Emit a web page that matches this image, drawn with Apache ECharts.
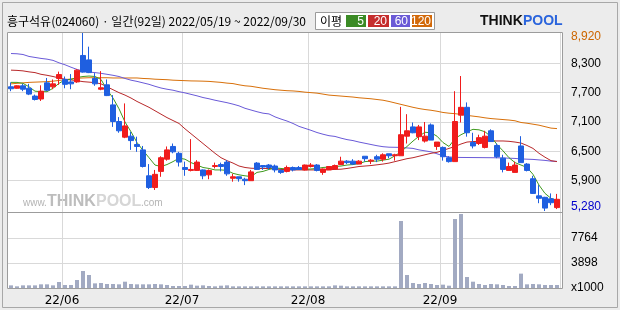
<!DOCTYPE html>
<html><head><meta charset="utf-8">
<script src="https://cdn.jsdelivr.net/npm/echarts@6/dist/echarts.min.js"></script>
<style>html,body{margin:0;padding:0;background:#ececec}#c{width:620px;height:310px}</style>
</head><body><div id="c"></div>
<script>
const dates = [
'2022/05/19','2022/05/20','2022/05/23','2022/05/24','2022/05/25','2022/05/26','2022/05/27','2022/05/30','2022/05/31',
'2022/06/02','2022/06/03','2022/06/07','2022/06/08','2022/06/09','2022/06/10','2022/06/13','2022/06/14','2022/06/15','2022/06/16','2022/06/17','2022/06/20','2022/06/21','2022/06/22','2022/06/23','2022/06/24','2022/06/27','2022/06/28','2022/06/29','2022/06/30',
'2022/07/01','2022/07/04','2022/07/05','2022/07/06','2022/07/07','2022/07/08','2022/07/11','2022/07/12','2022/07/13','2022/07/14','2022/07/15','2022/07/18','2022/07/19','2022/07/20','2022/07/21','2022/07/22','2022/07/25','2022/07/26','2022/07/27','2022/07/28','2022/07/29',
'2022/08/01','2022/08/02','2022/08/03','2022/08/04','2022/08/05','2022/08/08','2022/08/09','2022/08/10','2022/08/11','2022/08/12','2022/08/16','2022/08/17','2022/08/18','2022/08/19','2022/08/22','2022/08/23','2022/08/24','2022/08/25','2022/08/26','2022/08/29','2022/08/30','2022/08/31',
'2022/09/01','2022/09/02','2022/09/05','2022/09/06','2022/09/07','2022/09/08','2022/09/13','2022/09/14','2022/09/15','2022/09/16','2022/09/19','2022/09/20','2022/09/21','2022/09/22','2022/09/23','2022/09/26','2022/09/27','2022/09/28','2022/09/29','2022/09/30'];

const openP = [7820,7790,7840,7790,7630,7570,7900,7820,7990,7970, 7920,7920,8460,8370,7990,7770,7860,7450,7110,6790, 6810,6640,6530,6000,5760,6090,6340,6600,6460,6170,
 6110,6110,6120,6020,6190,6230,6280,5950,5980,5930, 5900,6260,6210,6220,6200,6110,6090,6170,6170,6120, 6190,6220,6070,6120,6140,6230,6300,6300,6240,6400,
 6300,6390,6340,6450,6410,6410,6810,7000,6800,6710, 7040,6600,6580,6370,6290,7240,7400,6680,6660,6580, 6920,6620,6360,6110,6070,6610,6240,5940,5590,5560, 5530,5350];
const closeP = [7780,7840,7770,7670,7560,7730,7750,7880,8070,7870, 7880,8160,8120,8110,7880,7800,7640,7110,6920,7020, 6720,6600,6190,5760,6030,6370,6530,6490,6280,6130,
 6130,6280,6000,6110,6210,6190,6040,5980,5940,5900, 6080,6130,6180,6170,6120,6070,6170,6120,6130,6220, 6220,6110,6140,6190,6210,6300,6270,6240,6300,6350,
 6320,6340,6430,6410,6430,6840,6920,6880,7000,6810, 6730,6690,6390,6290,7110,7400,6880,6610,6780,6810, 6700,6390,6130,6190,6220,6270,6110,5640,5540,5340, 5450,5520];
const lowP = [7730,7780,7730,7650,7540,7530,7730,7770,7860,7790, 7770,7900,8110,8100,7840,7750,7630,7000,6880,6770, 6530,6490,6170,5730,5710,5980,6310,6460,6190,6000,
 6090,6100,5930,5930,6150,6090,6000,5880,5880,5810, 5900,6120,6120,6130,6070,6040,6070,6090,6120,6110, 6170,6090,6020,6120,6130,6220,6240,6220,6240,6290,
 6240,6280,6290,6360,6310,6410,6660,6870,6730,6680, 6730,6530,6310,6270,6290,7090,6800,6560,6630,6560, 6700,6360,6070,6110,6070,6270,6090,5630,5440,5280, 5400,5320];
const highP = [7910,7850,7880,7880,7660,7850,8000,7970,8130,8030, 8080,8180,8920,8640,8100,8140,7970,7650,7200,7480, 6900,6800,6610,6240,6120,6400,6600,6660,6490,6290,
 6750,6320,6130,6130,6270,6270,6320,6040,5980,5960, 6120,6280,6220,6240,6230,6130,6210,6190,6200,6230, 6260,6240,6150,6200,6230,6390,6320,6340,6320,6400,
 6340,6430,6460,6450,6450,7410,7260,7090,7040,7100, 7070,6690,6600,6400,7730,8040,7500,6880,6840,6920, 6950,6660,6430,6270,6290,6810,6260,6000,5810,5570, 5640,5630];

const ma5 = [7910,7910,7890,7820,7730,7720,7720,7790,7890,7960, 7970,8010,8030,8040,8030,7970,7760,7590,7370,7100, 6900,6680,6520,6370,6220,6190,6230,6290,6360,6340,
 6270,6220,6170,6150,6120,6120,6110,6050,6020,6000, 5985,6070,6090,6130,6160,6150,6140,6130,6130,6130, 6140,6150,6170,6180,6190,6200,6220,6230,6250,6290,
 6300,6300,6320,6340,6410,6490,6600,6710,6810,6890, 6880,6810,6680,6600,6760,6840,6900,6950,6940,6900, 6800,6640,6510,6370,6270,6220,6170,6030,5810,5640, 5540,5490];
const ma20 = [8160,8155,8145,8125,8110,8075,8055,8030,8000,7975, 7960,7945,7925,7915,7905,7880,7820,7760,7700,7650, 7590,7520,7460,7400,7330,7260,7190,7130,7070,6960,
 6860,6760,6660,6560,6460,6370,6310,6260,6200,6170, 6155,6150,6150,6150,6140,6130,6125,6120,6120,6120, 6120,6120,6120,6125,6130,6135,6150,6170,6190,6200,
 6210,6225,6240,6260,6290,6320,6350,6370,6400,6430, 6460,6480,6520,6560,6600,6650,6690,6700,6705,6710, 6712,6712,6712,6705,6690,6670,6620,6560,6460,6380, 6310,6290];
const ma60 = [8500,8495,8480,8440,8420,8400,8385,8360,8310,8270, 8220,8175,8135,8120,8110,8095,8075,8055,8030,7990, 7955,7930,7900,7870,7830,7795,7770,7750,7720,7695,
 7665,7635,7600,7575,7545,7520,7495,7465,7430,7380, 7345,7310,7280,7265,7205,7160,7120,7070,7010,6970, 6930,6885,6850,6820,6805,6770,6740,6720,6690,6665,
 6640,6615,6595,6585,6583,6580,6570,6560,6530,6510, 6490,6450,6410,6385,6378,6375,6374,6373,6372,6371, 6370,6368,6365,6360,6355,6345,6340,6335,6325,6315, 6300,6295];
const ma120 = [7880,7890,7900,7910,7915,7920,7925,7935,7950,7965, 7980,7995,8000,8005,8005,8005,8005,8000,8000,8000, 8000,8000,7990,7985,7975,7970,7965,7955,7950,7945,
 7940,7938,7935,7930,7920,7910,7895,7885,7860,7840, 7830,7810,7790,7775,7760,7750,7740,7735,7725,7710, 7700,7690,7670,7650,7640,7630,7620,7610,7595,7585,
 7575,7560,7545,7520,7490,7460,7430,7400,7375,7355, 7340,7320,7295,7280,7270,7255,7235,7220,7205,7185, 7170,7160,7150,7140,7125,7090,7075,7055,7035,7005, 6975,6965];
const volume = [410,260,410,410,410,570,570,410,930,470, 470,1240,2640,2020,720,780,620,620,570,980, 620,570,570,570,620,570,470,310,310,310,
 520,360,410,310,260,360,410,260,260,260, 260,260,260,260,260,260,260,260,260,260, 260,260,260,260,410,360,260,260,260,260,
 260,260,260,260,260,10400,2020,780,620,780, 620,470,520,360,10710,11490,1710,980,620,470, 620,570,470,310,310,2230,570,620,570,470, 470,470];

const priceLabels = [5280, 5900, 6500, 7100, 7700, 8300, 8920];
const priceGridLines = [5900, 6500, 7100, 7700, 8300];
const volLabels = [0, 3898, 7764];
const volGridLines = [3898, 7764];

const isMonthStart = (idx) => idx > 0 && idx < dates.length && dates[idx].slice(5,7) !== dates[idx-1].slice(5,7);
const comma = v => String(v).replace(/\B(?=(\d{3})+(?!\d))/g, ',');

const chart = echarts.init(document.getElementById('c'), null, {renderer:'canvas'});
const gridLine = {color:'#d9d9d9', width:1};
const lineS = (name, data, color) => ({name, type:'line', data, xAxisIndex:0, yAxisIndex:0, symbol:'none', z:2,
  lineStyle:{color, width:1}, silent:true, animation:false});

chart.setOption({
  animation:false,
  backgroundColor:'#ececec',
  grid:[
    {left:8, top:32, width:552, height:180},
    {left:8, top:213, width:552, height:75}
  ],
  xAxis:[
    {gridIndex:0, type:'category', data:dates, boundaryGap:true, axisLine:{show:false}, axisTick:{show:false}, axisLabel:{show:false},
     splitLine:{show:true, interval:isMonthStart, lineStyle:gridLine}},
    {gridIndex:1, type:'category', data:dates, boundaryGap:true, axisLine:{show:false}, axisTick:{show:false},
     axisLabel:{show:true, interval:isMonthStart, formatter:d=>d.slice(2,4)+'/'+d.slice(5,7), margin:7,
       fontFamily:'DejaVu Sans', fontSize:12, color:'#000', padding:[0,6,0,0]},
     splitLine:{show:true, interval:isMonthStart, lineStyle:gridLine}}
  ],
  yAxis:[
    {gridIndex:0, type:'value', position:'right', min:5260, max:8940,
     axisLine:{show:false}, axisTick:{show:false, customValues:priceGridLines},
     splitLine:{show:true, lineStyle:gridLine},
     axisLabel:{customValues:priceLabels, margin:11, fontFamily:'Liberation Sans', fontSize:12, color:'#000',
       formatter:v=> v===8920 ? '{hi|'+comma(v)+'}' : (v===5280 ? '{lo|'+comma(v)+'}' : comma(v)),
       rich:{hi:{color:'#cc6600', fontFamily:'Liberation Sans', fontSize:12, padding:[8,0,0,0]},
             lo:{color:'#0000cc', fontFamily:'Liberation Sans', fontSize:12, padding:[0,0,8,0]}}}},
    {gridIndex:1, type:'value', position:'right', min:0, max:11646,
     axisLine:{show:false}, axisTick:{show:false, customValues:volGridLines},
     splitLine:{show:true, lineStyle:gridLine},
     axisLabel:{customValues:volLabels, margin:11, fontFamily:'Liberation Sans Narrow, Liberation Sans', fontSize:12, color:'#000',
       formatter:v=> v===0 ? 'x1000' : String(v)}}
  ],
  series:[
    lineS('MA120', ma120, '#d8700a'),
    lineS('MA60', ma60, '#6a5ad8'),
    lineS('MA20', ma20, '#b8282a'),
    lineS('MA5', ma5, '#3f9a1e'),
    {name:'price', type:'candlestick', xAxisIndex:0, yAxisIndex:0, z:3, barWidth:5,
     data: dates.map((d,i)=>[openP[i], closeP[i], lowP[i], highP[i]]),
     itemStyle:{color:'#f01c1c', color0:'#1f5fe0', borderColor:'#f01c1c', borderColor0:'#1f5fe0', borderWidth:1}},
    {name:'volume', type:'bar', xAxisIndex:1, yAxisIndex:1, data:volume, barWidth:4,
     itemStyle:{color:'#a2aac2'}}
  ],
  graphic:[
    {type:'rect', z:-10, silent:true, shape:{x:2.5,y:2.5,width:615,height:305}, style:{fill:'#ececec', stroke:'#a8a8a8', lineWidth:1}},
    {type:'rect', z:-9, silent:true, shape:{x:7,y:32,width:556,height:257}, style:{fill:'#ffffff'}},
    {type:'rect', z:50, silent:true, shape:{x:7.5,y:32.5,width:555,height:256}, style:{fill:'none', stroke:'#9c9c9c', lineWidth:1}},
    {type:'line', z:50, silent:true, shape:{x1:7.5,y1:212.5,x2:562.5,y2:212.5}, style:{stroke:'#9c9c9c', lineWidth:1}},
    {type:'text', z:50, x:7, y:21, style:{text:'흥구석유(024060) · 일간(92일) 2022/05/19 ~ 2022/09/30', font:'12px "Noto Sans CJK KR"', fill:'#000', textVerticalAlign:'middle'}},
    {type:'rect', z:50, shape:{x:315.5,y:12.5,width:119,height:17}, style:{fill:'#fff', stroke:'#9a9a9a', lineWidth:1}},
    {type:'text', z:51, x:320, y:21, style:{text:'이평', font:'12px "Noto Sans CJK KR"', fill:'#000', textVerticalAlign:'middle'}},
    {type:'rect', z:51, shape:{x:346,y:15,width:20,height:12}, style:{fill:'#3b8b25'}},
    {type:'rect', z:51, shape:{x:368,y:15,width:21,height:12}, style:{fill:'#c52d2d'}},
    {type:'rect', z:51, shape:{x:391,y:15,width:19,height:12}, style:{fill:'#6b5ad6'}},
    {type:'rect', z:51, shape:{x:412,y:15,width:20,height:12}, style:{fill:'#d2690a'}},
    {type:'text', z:52, x:364, y:21.5, style:{text:'5', font:'12px "Liberation Sans"', fill:'#fff', textAlign:'right', textVerticalAlign:'middle'}},
    {type:'text', z:52, x:387, y:21.5, style:{text:'20', font:'12px "Liberation Sans"', fill:'#fff', textAlign:'right', textVerticalAlign:'middle'}},
    {type:'text', z:52, x:408, y:21.5, style:{text:'60', font:'12px "Liberation Sans"', fill:'#fff', textAlign:'right', textVerticalAlign:'middle'}},
    {type:'text', z:52, x:431, y:21.5, style:{text:'120', font:'12px "Liberation Sans"', fill:'#fff', textAlign:'right', textVerticalAlign:'middle'}},
    {type:'text', z:50, x:480, y:21, style:{text:'THINK', font:'bold 14px "Liberation Sans"', fill:'#111', textVerticalAlign:'middle'}},
    {type:'text', z:50, x:523, y:21, style:{text:'POOL', font:'bold 14px "Liberation Sans"', fill:'#2a64dc', textVerticalAlign:'middle'}},
    {type:'text', z:-5, x:23, y:203, style:{text:'www.', font:'10px "Liberation Sans"', fill:'#b4b4b4', textVerticalAlign:'middle'}},
    {type:'text', z:-5, x:47, y:202, style:{text:'THINK', font:'bold 16px "Liberation Sans"', fill:'#bdbdbd', textVerticalAlign:'middle'}},
    {type:'text', z:-5, x:96, y:202, style:{text:'POOL', font:'bold 16px "Liberation Sans"', fill:'#d6d6d6', textVerticalAlign:'middle'}},
    {type:'text', z:-5, x:141, y:203, style:{text:'.com', font:'10px "Liberation Sans"', fill:'#b4b4b4', textVerticalAlign:'middle'}}
  ]
});
</script></body></html>
